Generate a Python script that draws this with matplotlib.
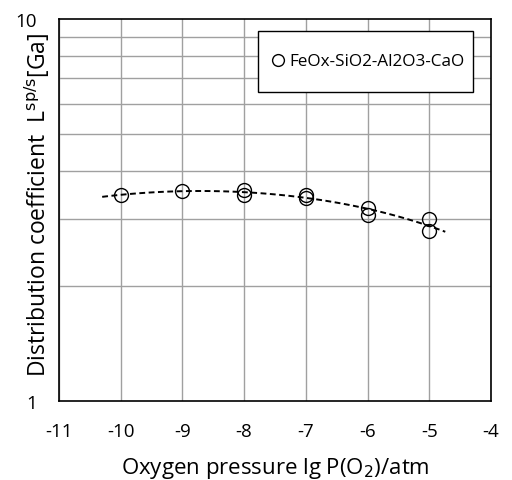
import numpy as np
import matplotlib.pyplot as plt
from matplotlib.patches import Rectangle
from matplotlib.ticker import FixedLocator, NullFormatter

plt.rcParams['font.family'] = ['Open Sans', 'DejaVu Sans']

# measured points, lg P(O2) vs L^{sp/s}[Ga]
lg_po2 = [-10, -9, -8, -8, -7, -7, -6, -6, -5, -5]
dist_coef = [3.46, 3.55, 3.57, 3.46, 3.47, 3.41, 3.21, 3.07, 3.00, 2.78]

# polynomial trend line (2nd order, as in the spreadsheet)
trend_range = [-10.3, -4.74]
coef = np.polyfit(lg_po2, dist_coef, 2)
xt = np.linspace(trend_range[0], trend_range[1], 100)
yt = np.polyval(coef, xt)

fig = plt.figure(figsize=(5.12, 4.81), dpi=100)
ax = fig.add_axes([0.1152, 0.1642, 0.8437, 0.794])

ax.set_yscale('log')
ax.set_xlim(-11, -4)
ax.set_ylim(1, 10)

ax.plot(xt, yt, '--', color='black', lw=1.4, dashes=(3.0, 1.8), zorder=2)
ax.plot(lg_po2, dist_coef, 'o', ms=10, mfc='none', mec='black', mew=1.0,
        label='FeOx-SiO2-Al2O3-CaO', zorder=3)

ax.set_xticks(range(-11, -3))
ax.set_xticklabels([str(v) for v in range(-11, -3)])
ax.yaxis.set_major_locator(FixedLocator([1, 10]))
ax.yaxis.set_minor_locator(FixedLocator(range(2, 10)))
ax.yaxis.set_minor_formatter(NullFormatter())
ax.set_yticklabels(['1', '10'])
ax.tick_params(axis='both', which='both', length=0, labelsize=13.5)
ax.tick_params(axis='x', pad=15)
ax.tick_params(axis='y', pad=16)

ax.grid(True, which='major', axis='x', color='#a0a0a0', lw=1)
ax.grid(True, which='minor', axis='y', color='#a0a0a0', lw=1)
for s in ax.spines.values():
    s.set_linewidth(1.2)
    s.set_color('black')

ax.set_xlabel('Oxygen pressure lg P(O$_2$)/atm', fontsize=16)
ax.xaxis.set_label_coords(0.5, -0.142)
ax.set_ylabel('Distribution coefficient  L$^{\\mathrm{sp/s}}$[Ga]', fontsize=16.5)
ax.yaxis.set_label_coords(-0.016, 0.515)

# legend box drawn separately (the original has a roomy frame)
box = Rectangle((0.4606, 0.809), 0.4977, 0.160, transform=ax.transAxes,
                facecolor='white', edgecolor='black', lw=1.0, zorder=4)
ax.add_patch(box)
leg = ax.legend(loc='center', bbox_to_anchor=(0.712, 0.889), fontsize=12.3,
                frameon=False, borderpad=0, handletextpad=0.1, handlelength=1.1,
                markerscale=0.85)
leg.set_zorder(5)

fig.savefig('out.png', dpi=100)
